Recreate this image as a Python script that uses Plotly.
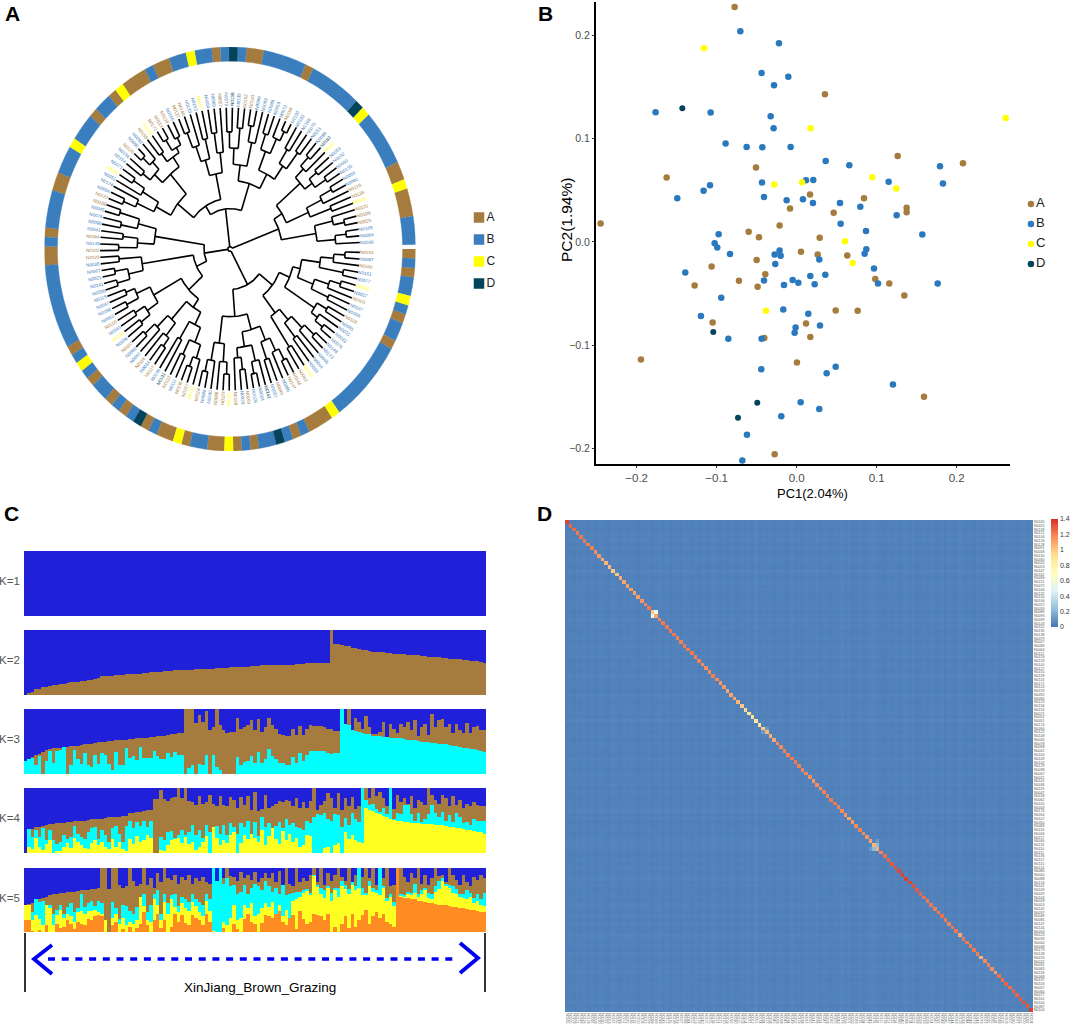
#!/usr/bin/env python3
"""
Four panel figure: tree with group ring, PCA scatter, admixture bars, relatedness heatmap
"""

import math
import numpy as np
import plotly.graph_objects as go

W, H = 1072, 1026
SANS = "Liberation Sans, Arial, sans-serif"

GROUPS = ["A", "B", "C", "D"]
GROUP_COLORS = {"A": "#A67C3E", "B": "#3A7EBD", "C": "#FFFF00", "D": "#04445A"}

# ---- panel A: ring, clockwise from the gap at 3 o'clock
RING_GROUPS = list("ABABCBABABC" "ABABDBABACA" "BACABADBABA" "BABCBABABAB" "ABCBABACABA" "BCBABDBABAB" "DCBACAB")
RING_COUNTS = [1, 1, 1, 2, 1, 1, 1, 2, 1, 9, 1,
               3, 1, 1, 1, 1, 2, 1, 1, 1, 1, 2,
               2, 1, 1, 2, 1, 1, 1, 1, 1, 1, 1,
               2, 1, 1, 1, 1, 1, 9, 2, 1, 1, 4,
               2, 3, 1, 3, 1, 2, 1, 1, 3, 1, 2,
               2, 1, 2, 1, 1, 1, 1, 2, 5, 1, 6,
               1, 1, 6, 2, 1, 3, 3]

LEAF_IDS = [
    "N0104", "N0087", "N0100", "N0161", "N0077", "N0060", "N0057", "N0103", "N0137", "N0068",
    "N0118", "N0065", "N0031", "N0022", "N0076", "N0148", "N0173", "N0048", "N0044", "N0033",
    "N0123", "N0063", "N0144", "N0147", "N0085", "N0049", "N0037", "N0142", "N0024", "N0028",
    "N0163", "N0029", "N0169", "N0101", "N0124", "N0088", "N0040", "N0080", "N0114", "N0115",
    "N0157", "N0136", "N0111", "N0110", "N0131", "N0046", "N0117", "N0034", "N0116", "N0083",
    "N0050", "N0107", "N0056", "N0176", "N0043", "N0105", "N0062", "N0158", "N0047", "N0119",
    "N0036", "N0141", "N0021", "N0067", "N0038", "N0129", "N0102", "N0149", "N0164", "N0041",
    "N0098", "N0078", "N0045", "N0108", "N0122", "N0094", "N0174", "N0051", "N0052", "N0071",
    "N0154", "N0156", "N0125", "N0090", "N0092", "N0159", "N0120", "N0171", "N0113", "N0139",
    "N0155", "N0127", "N0140", "N0133", "N0153", "N0112", "N0064", "N0069", "N0027", "N0079",
    "N0138", "N0135", "N0152", "N0143", "N0099", "N0093", "N0089", "N0059", "N0072", "N0106",
    "N0150", "N0132", "N0166", "N0075", "N0151", "N0096", "N0162", "N0167", "N0053", "N0032",
    "N0030", "N0130", "N0058", "N0091", "N0128", "N0126", "N0146", "N0121", "N0109", "N0025",
    "N0165", "N0084", "N0039",
]

# tree: [node radius, child, child, ...], 0 is a leaf; leaves run clockwise
TREE_SE = [.29,
           [.35,
            [.39,
             [.49, [.56, [.62, 0, 0], 0], [.62, 0, 0]],
             [.48, [.56, [.62, 0, 0], 0], [.58, 0, 0]]],
            [.54, [.6, 0, 0], [.58, 0, [.63, 0, 0]]]],
           [.40, [.47, [.55, [.62, 0, 0], 0], [.56, 0, 0]], [.58, 0, 0]]]
TREE_BOTTOM = [.335,
               [.415,
                [.49, [.56, [.62, 0, 0], 0], [.58, 0, 0]],
                [.49, [.57, 0, [.63, 0, 0]], [.54, [.6, 0, 0], 0]]],
               [.47, [.56, [.62, 0, 0], 0], [.56, 0, [.62, 0, 0]]]]
TREE_SW = [.3,
           [.35,
            [.42, [.5, [.57, 0, [.62, 0, 0]], [.58, 0, 0]], [.52, 0, 0]],
            [.47, [.55, [.6, 0, 0], 0], [.55, 0, [.62, 0, 0]]]],
           [.47, [.54, [.6, 0, 0], [.6, 0, 0]], [.55, [.62, 0, 0], [.6, 0, 0]]]]
TREE_WW = [.48, [.56, [.63, 0, 0], [.63, 0, 0]], [.6, 0, 0]]
TREE_NW = [.41, [.5, [.6, 0, 0], [.58, 0, 0]], [.51, [.6, 0, 0], [.62, 0, 0]]]
TREE_TL = [.25,
           [.36,
            [.45, [.55, [.62, 0, 0], 0], [.55, 0, [.62, 0, 0]]],
            [.49, [.55, [.6, 0, 0], [.6, [.65, 0, 0], 0]], [.55, [.6, 0, 0], [.58, [.64, 0, 0], [.62, 0, 0]]]]],
           [.38, [.46, [.54, [.62, 0, 0], 0], [.56, 0, 0]], [.48, [.58, 0, 0], 0]]]
TREE_TR = [.34,
           [.42, [.5, [.58, 0, 0], [.6, 0, 0]], [.54, [.62, 0, 0], 0]],
           [.42, [.52, [.6, 0, 0], [.6, 0, [.65, 0, 0]]], [.5, [.58, 0, 0], [.6, 0, 0]]]]
TREE_E = [.28,
          [.33,
           [.5, [.56, [.62, 0, 0], 0], [.55, [.6, 0, 0], [.62, 0, 0]]],
           [.46, [.55, [.62, 0, 0], 0], [.58, 0, 0]]],
          [.47, [.57, 0, [.63, 0, 0]], [.57, [.63, 0, 0], 0]]]
TREE = [.012,
        [.2, TREE_SE, TREE_BOTTOM],
        [.14, [.2, TREE_SW, TREE_WW], TREE_NW],
        [.2, TREE_TL, TREE_TR],
        TREE_E]
TIP_R = 0.70
RING_IN, RING_OUT = 0.93, 1.0
RING_SPAN = 358.7

# ---- panel B: PC1, PC2 per group
PCA_A_X = [-.0775, .0354, .1263, .2079, -.0508, -.1625, .0167, .0842, -.0083, .1375, .1375, .0463, -.245,
           -.0213, -.06, -.0471, .0288, .0054, .0263, .0633, -.05, -.1063, -.0392, .0983, -.0721, .1158,
           -.1275, -.0488, .1346, .0488, .0763, -.105, .0117, -.0404, .0171, -.1946, .0004, .1592, -.0275]
PCA_A_Y = [.2274, .1429, .0832, .0761, .0719, .0623, .0458, .0423, .0323, .0329, .0287, .0281, .0177,
           .0158, .0097, .0045, .0039, -.0097, -.0123, -.0132, -.0177, -.0239, -.0313, -.0361, -.0377, -.0403,
           -.0423, -.0435, -.0519, -.0665, -.0668, -.0781, -.079, -.0932, -.0923, -.1139, -.1168, -.15, -.2058]
PCA_B_X = [-.0704, -.0221, -.0438, -.0104, -.0283, -.1763, -.1075, -.0325, -.0288, -.0888, -.0625, -.0429,
           -.0075, .0363, .0658, .1792, -.0433, .0117, .0208, .115, -.1083, -.1163, .1829, -.1492, -.0408,
           -.0125, .0079, .0204, .0542, .0796, .125, .055, -.0975, .0867, .1571, -.1025, -.0992, -.0213,
           -.0275, -.02, -.0833, .0871, .085, .0283, -.0267, -.1392, .0967, .0171, .0358, -.0408, -.005,
           .0021, .0225, -.0158, .1017, .1763, -.0942, -.0167, .0146, -.1196, .0292, -.0013, -.0025, -.0854,
           -.0438, -.0442, .0488, .0375, .1204, .005, .0283, -.0192, -.0621, -.0679]
PCA_B_Y = [.2039, .1923, .1635, .16, .1516, .1255, .1252, .1216, .11, .0952, .0919, .0916,
           .0919, .0784, .0742, .0732, .0574, .0597, .06, .0581, .0548, .0494, .0565, .0423, .0435,
           .0403, .0413, .0377, .0377, .0339, .0258, .0174, .0074, .0106, .0071, -.0013, -.0055, -.0084,
           -.0123, -.0135, -.0119, -.0071, -.0116, -.0171, -.0216, -.0297, -.0258, -.0332, -.0319, -.0374, -.0371,
           -.0397, -.041, -.0419, -.0403, -.0403, -.0542, -.0655, -.0697, -.0719, -.081, -.0829, -.0881, -.0939,
           -.0939, -.1235, -.121, -.1274, -.1381, -.1555, -.1619, -.169, -.1868, -.2119]
PCA_C_X = [-.1158, .2613, .0175, .0946, -.0279, .0067, .1246, .0604, .07, -.0383]
PCA_C_Y = [.1874, .12, .11, .0626, .0555, .0577, .0516, .0006, -.0206, -.0668]
PCA_D_X = [-.1429, -.1042, -.0492, -.0733]
PCA_D_Y = [.1294, -.0874, -.1558, -.1703]
PC_TICKS = [-0.2, -0.1, 0.0, 0.1, 0.2]

# ---- panel C: top of each stacked colour per sample, in percent
K2_BROWN = [0, 4, 5, 9, 10, 12, 13, 15, 16, 16,
            17, 18, 19, 21, 21, 21, 22, 22, 23, 24,
            25, 27, 29, 30, 30, 30, 31, 31, 31, 32,
            32, 32, 33, 33, 34, 34, 35, 35, 36, 36,
            37, 37, 37, 38, 38, 38, 39, 39, 39, 40,
            40, 40, 41, 41, 41, 42, 42, 42, 42, 43,
            43, 43, 44, 44, 44, 45, 45, 45, 46, 46,
            46, 46, 46, 47, 47, 47, 47, 47, 48, 48,
            48, 49, 49, 49, 49, 49, 50, 50, 100, 79,
            78, 77, 76, 75, 73, 72, 71, 70, 69, 68,
            67, 67, 66, 66, 65, 65, 64, 64, 63, 63,
            62, 62, 61, 61, 60, 60, 59, 59, 58, 58,
            57, 57, 56, 56, 55, 55, 54, 54, 53, 53,
            52, 51, 50]
K3_CYAN = [21, 24, 25, 14, 29, 0, 21, 37, 17, 36,
           37, 42, 0, 14, 37, 24, 16, 32, 14, 11,
           29, 16, 33, 29, 16, 7, 34, 14, 14, 40,
           25, 28, 22, 42, 25, 25, 25, 35, 28, 24,
           24, 33, 26, 34, 29, 29, 0, 9, 14, 0,
           16, 14, 29, 0, 29, 11, 6, 0, 0, 0,
           0, 27, 14, 19, 21, 28, 17, 34, 17, 24,
           38, 28, 24, 17, 17, 15, 15, 27, 18, 32,
           21, 29, 35, 35, 36, 36, 35, 32, 31, 33,
           33, 100, 77, 75, 68, 66, 65, 64, 62, 61,
           60, 59, 58, 57, 57, 56, 56, 55, 55, 54,
           53, 52, 52, 51, 50, 50, 49, 48, 48, 47,
           47, 46, 45, 44, 43, 42, 41, 40, 39, 38,
           37, 35, 34]
K3_BROWN = [21, 24, 26, 29, 31, 34, 37, 39, 40, 41,
            41, 42, 42, 43, 44, 44, 45, 46, 46, 47,
            48, 49, 50, 50, 51, 51, 52, 52, 53, 53,
            54, 54, 55, 55, 56, 56, 57, 57, 58, 58,
            59, 60, 61, 62, 63, 64, 100, 100, 100, 78,
            91, 80, 97, 68, 73, 100, 75, 68, 63, 65,
            65, 86, 70, 73, 75, 83, 68, 85, 65, 73,
            86, 75, 70, 62, 60, 58, 58, 70, 60, 74,
            60, 69, 75, 74, 74, 74, 72, 69, 69, 67,
            67, 100, 77, 100, 68, 86, 80, 70, 89, 73,
            62, 62, 65, 80, 57, 77, 70, 64, 77, 73,
            80, 68, 83, 58, 73, 77, 60, 93, 73, 83,
            84, 73, 77, 64, 77, 68, 64, 78, 64, 73,
            74, 68, 68]
K4_YELLOW = [0, 10, 6, 24, 9, 5, 15, 20, 0, 3,
             4, 10, 16, 8, 24, 18, 12, 8, 6, 16,
             20, 12, 18, 10, 6, 22, 10, 18, 6, 4,
             22, 14, 26, 18, 20, 28, 24, 0, 0, 5,
             4, 12, 20, 22, 24, 16, 26, 14, 18, 5,
             10, 18, 26, 0, 40, 24, 12, 20, 16, 28,
             32, 0, 16, 28, 22, 30, 24, 18, 36, 12,
             26, 38, 22, 14, 34, 20, 30, 18, 24, 10,
             12, 28, 26, 0, 0, 0, 8, 10, 0, 12,
             16, 0, 32, 22, 28, 20, 18, 16, 69, 66,
             65, 62, 60, 57, 55, 53, 51, 49, 49, 48,
             48, 47, 47, 46, 46, 45, 45, 45, 44, 44,
             43, 42, 41, 40, 39, 38, 37, 36, 35, 34,
             33, 32, 30]
K4_CYAN = [0, 37, 25, 35, 25, 40, 20, 35, 20, 15,
           18, 28, 22, 25, 42, 30, 25, 22, 32, 38,
           40, 22, 35, 28, 18, 38, 42, 30, 18, 42,
           50, 38, 48, 42, 50, 40, 50, 0, 0, 25,
           20, 32, 34, 24, 28, 36, 28, 32, 44, 28,
           36, 24, 44, 32, 40, 42, 30, 44, 28, 46,
           40, 30, 46, 40, 50, 30, 48, 26, 56, 40,
           46, 38, 42, 48, 38, 52, 44, 46, 40, 38,
           36, 50, 46, 56, 60, 58, 62, 52, 50, 60,
           58, 40, 54, 44, 62, 52, 48, 100, 82, 74,
           76, 68, 64, 70, 60, 100, 52, 62, 60, 74,
           74, 60, 50, 62, 48, 52, 60, 74, 62, 56,
           64, 50, 58, 48, 62, 56, 46, 48, 44, 52,
           50, 50, 50]
K4_BROWN = [0, 37, 37, 40, 41, 42, 44, 45, 45, 46,
            46, 47, 48, 48, 49, 49, 50, 50, 51, 52,
            52, 53, 53, 54, 55, 55, 56, 56, 57, 57,
            61, 62, 63, 64, 65, 66, 67, 83, 83, 97,
            83, 80, 84, 86, 100, 84, 100, 80, 78, 74,
            88, 76, 78, 90, 76, 72, 88, 74, 72, 86,
            82, 70, 86, 74, 88, 66, 94, 65, 68, 90,
            70, 72, 76, 80, 78, 82, 80, 72, 84, 70,
            78, 70, 80, 100, 66, 74, 80, 92, 84, 70,
            92, 66, 84, 72, 86, 68, 72, 100, 100, 84,
            100, 88, 94, 84, 72, 100, 68, 90, 78, 84,
            76, 88, 70, 82, 78, 74, 100, 90, 82, 76,
            90, 84, 72, 88, 74, 82, 70, 76, 72, 78,
            74, 72, 72]
K5_ORANGE = [20, 20, 4, 0, 5, 0, 12, 0, 0, 15,
             8, 10, 20, 14, 6, 18, 14, 12, 22, 20,
             26, 28, 26, 0, 0, 12, 18, 2, 6, 0,
             10, 0, 8, 14, 32, 12, 0, 20, 30, 8,
             20, 0, 10, 30, 18, 28, 16, 12, 28, 24,
             20, 12, 30, 18, 0, 0, 0, 8, 0, 0,
             14, 6, 0, 22, 30, 18, 14, 0, 16, 28,
             26, 24, 30, 34, 18, 12, 24, 28, 6, 34,
             22, 14, 18, 30, 28, 26, 20, 30, 0, 10,
             0, 14, 26, 8, 30, 10, 20, 28, 36, 14,
             26, 32, 24, 30, 18, 14, 10, 100, 56, 55,
             54, 53, 52, 50, 49, 48, 47, 46, 45, 44,
             43, 43, 42, 41, 40, 39, 38, 37, 36, 35,
             34, 33, 32]
K5_YELLOW = [44, 44, 20, 28, 22, 12, 44, 38, 12, 28,
             36, 24, 30, 26, 18, 32, 34, 30, 34, 34,
             36, 32, 30, 20, 0, 24, 30, 14, 24, 12,
             18, 14, 20, 56, 42, 20, 18, 52, 44, 20,
             48, 30, 52, 40, 32, 46, 38, 34, 48, 42,
             32, 26, 50, 34, 4, 0, 0, 18, 12, 24,
             44, 20, 24, 44, 38, 46, 26, 30, 38, 46,
             40, 48, 30, 44, 26, 36, 24, 50, 52, 56,
             62, 66, 58, 88, 72, 60, 54, 70, 50, 66,
             56, 72, 68, 60, 74, 66, 70, 58, 60, 72,
             64, 62, 58, 70, 50, 56, 42, 100, 58, 56,
             60, 58, 62, 55, 60, 66, 54, 52, 64, 68,
             80, 72, 70, 62, 60, 56, 54, 52, 56, 46,
             50, 44, 42]
K5_CYAN = [44, 44, 32, 52, 48, 50, 44, 44, 30, 36,
           44, 30, 40, 46, 32, 38, 60, 40, 46, 50,
           42, 50, 46, 20, 0, 48, 38, 22, 44, 42,
           34, 30, 40, 56, 60, 32, 44, 60, 66, 30,
           60, 46, 58, 60, 42, 56, 52, 48, 60, 52,
           48, 44, 60, 52, 100, 80, 100, 76, 84, 72,
           74, 60, 64, 74, 60, 70, 76, 72, 66, 80,
           72, 64, 70, 60, 74, 58, 60, 62, 64, 64,
           66, 68, 62, 90, 74, 70, 66, 72, 62, 70,
           70, 80, 74, 68, 78, 72, 100, 70, 62, 80,
           70, 66, 100, 72, 54, 60, 48, 100, 60, 58,
           64, 62, 76, 60, 66, 70, 62, 60, 72, 80,
           84, 76, 74, 72, 68, 60, 60, 66, 62, 54,
           60, 52, 62]
K5_BROWN = [44, 45, 46, 50, 52, 54, 56, 58, 60, 60,
            62, 62, 63, 64, 64, 65, 66, 66, 67, 68,
            68, 69, 100, 100, 68, 100, 100, 74, 70, 72,
            100, 80, 72, 76, 100, 74, 84, 70, 92, 78,
            100, 84, 82, 90, 76, 86, 82, 90, 76, 84,
            80, 86, 78, 76, 100, 78, 100, 84, 100, 88,
            86, 80, 94, 84, 90, 82, 94, 78, 84, 92,
            84, 92, 78, 96, 72, 100, 76, 72, 100, 78,
            84, 80, 90, 100, 78, 100, 74, 92, 80, 90,
            100, 86, 80, 100, 76, 90, 100, 86, 100, 84,
            100, 74, 100, 84, 100, 72, 74, 100, 100, 86,
            78, 92, 84, 100, 76, 90, 74, 84, 100, 88,
            90, 78, 100, 90, 82, 74, 90, 78, 72, 86,
            82, 90, 84]
BLUE, BROWN, CYAN, YELLOW, ORANGE = "#2020D8", "#A67C3E", "#00FFFF", "#FFFF22", "#FF8C22"

# ---- panel D: diagonal, a few strong pairs, and a faint per-sample tone
HEAT_DIAG = [1.35, 1.27, 1.25, 1.22, 1.22, 1.22, 1.2, 1.2, 1.17, 1.14,
             1.08, 1.05, 1.05, 1.0, 1.0, 1.08, 1.1, 1.12, 1.12, 1.1,
             1.12, 1.15, 1.18, 1.22, 1.0, 1.1, 1.2, 1.22, 1.22, 1.22,
             1.22, 1.2, 1.2, 1.22, 1.22, 1.22, 1.2, 1.2, 1.17, 1.17,
             1.17, 1.2, 1.17, 1.14, 1.14, 1.1, 1.1, 1.1, 1.05, 1.0,
             .95, .9, .9, .85, .9, 1.0, 1.05, 1.08, 1.1, 1.17,
             1.17, 1.2, 1.2, 1.22, 1.22, 1.2, 1.2, 1.17, 1.17, 1.14,
             1.17, 1.17, 1.2, 1.2, 1.22, 1.22, 1.2, 1.17, 1.14, 1.1,
             1.14, 1.17, 1.2, 1.17, 1.14, 1.1, 1.05, 1.08, 1.2, 1.24,
             1.27, 1.3, 1.32, 1.34, 1.36, 1.36, 1.34, 1.32, 1.3, 1.27,
             1.24, 1.22, 1.22, 1.2, 1.22, 1.24, 1.22, 1.2, 1.22, 1.22,
             1.08, 1.22, 1.22, 1.22, 1.22, 1.2, 1.05, 1.17, 1.2, 1.17,
             1.12, 1.24, 1.24, 1.27, 1.24, 1.27, 1.27, 1.3, 1.32, 1.3,
             1.36]
HEAT_PAIRS = [(24, 25, 0.55), (86, 87, 0.22), (85, 87, 0.12), (55, 56, 0.12)]
HEAT_TONE = [14, 16, 12, 18, 15, 20, 13, 17, 11, 16, 19, 14, 12, 22, 15, 13, 18, 16, 20, 14,
             12, 17, 15, 19, 13, 16, 21, 14, 18, 12, 15, 17, 13, 20, 16, 14, 19, 12, 18, 15,
             13, 22, 16, 14, 17, 11, 19, 15, 13, 18, 16, 20, 14, 24, 12, 17, 15, 19, 13, 16,
             18, 14, 12, 21, 15, 17, 13, 19, 16, 14, 20, 12, 18, 15, 13, 17, 16, 22, 14, 19,
             12, 15, 18, 13, 16, 20, 22, 18, 14, 12, 17, 15, 19, 13, 16, 21, 14, 18, 12, 15,
             17, 13, 20, 16, 14, 19, 12, 18, 15, 13, 22, 16, 14, 17, 11, 19, 15, 13, 18, 16,
             20, 14, 12, 17, 15, 19, 13, 16, 21, 14, 18]
HEAT_TICKS = [0, 0.2, 0.4, 0.6, 0.8, 1, 1.2, 1.4]
HEAT_TICK_TEXT = ["0", "0.2", "0.4", "0.6", "0.8", "1", "1.2", "1.4"]
HEAT_COLORS = ["#4575B4", "#91BFDB", "#E0F3F8", "#FFFFBF", "#FEE090", "#FC8D59", "#D73027"]


def px_axes(layout, idx, x0, y0, x1, y1, x_kw, y_kw):
    """Put axes number idx on a pixel box of the page."""
    suffix = "" if idx == 1 else str(idx)
    hidden = dict(visible=False, fixedrange=True)
    layout["xaxis" + suffix] = dict(hidden, domain=[x0 / W, x1 / W], anchor="y" + suffix, **x_kw)
    layout["yaxis" + suffix] = dict(hidden, domain=[1 - y1 / H, 1 - y0 / H], anchor="x" + suffix, **y_kw)
    return ("x" + suffix, "y" + suffix)


def page_text(text, px, py, size, color="black", xanchor="center", **kw):
    return dict(xref="paper", yref="paper", x=px / W, y=1 - py / H, text=text, showarrow=False,
                xanchor=xanchor, yanchor="middle", font=dict(size=size, color=color, family=SANS), **kw)


def polar(r, deg):
    a = math.radians(deg)
    return r * math.cos(a), r * math.sin(a)


def tree_lines(root, step):
    """Walk the nested tree and return the polar dendrogram as x, y with breaks."""
    xs, ys = [], []
    next_leaf = [0]

    def spoke(r0, r1, deg):
        for r in (r0, r1):
            x, y = polar(r, deg)
            xs.append(x)
            ys.append(y)
        xs.append(None)
        ys.append(None)

    def arc(r, d0, d1):
        n = max(2, int(abs(d1 - d0) / 2) + 2)
        for d in np.linspace(d0, d1, n):
            x, y = polar(r, d)
            xs.append(x)
            ys.append(y)
        xs.append(None)
        ys.append(None)

    def walk(node, parent_r):
        if node == 0:
            deg = (next_leaf[0] + 0.5) * step
            next_leaf[0] += 1
            spoke(parent_r, TIP_R, deg)
            return deg
        r = node[0]
        angles = [walk(child, r) for child in node[1:]]
        mid = (angles[0] + angles[-1]) / 2
        arc(r, angles[0], angles[-1])
        if parent_r is not None:
            spoke(parent_r, r, mid)
        return mid

    walk(root, None)
    return xs, ys


def stacked_bars(fig, axes, tops, colors):
    """tops are cumulative boundaries from the bottom up; blue fills what is left."""
    samples = list(range(133))
    prev = [0] * 133
    for series, color in zip(tops, colors):
        assert len(series) == 133
        seg = [max(t - p, 0) for t, p in zip(series, prev)]
        prev = [max(t, p) for t, p in zip(series, prev)]
        fig.add_trace(go.Bar(x=samples, y=seg, marker=dict(color=color, line=dict(width=0)), width=1,
                             xaxis=axes[0], yaxis=axes[1], showlegend=False))
    fig.add_trace(go.Bar(x=samples, y=[100 - p for p in prev], marker=dict(color=BLUE, line=dict(width=0)), width=1,
                         xaxis=axes[0], yaxis=axes[1], showlegend=False))


def main():
    layout = {}
    annotations = []
    fig = go.Figure()

    # ---- A: tree and ring
    ax_a = px_axes(layout, 1, 44.4, 47, 415.6, 451, dict(range=[-1, 1]), dict(range=[1, -1]))
    leaf_groups = [g for g, c in zip(RING_GROUPS, RING_COUNTS) for _ in range(c)]
    n_leaf = len(leaf_groups)
    assert n_leaf == len(LEAF_IDS)
    step = RING_SPAN / n_leaf

    for group in GROUPS:
        xs, ys = [], []
        for i, g in enumerate(leaf_groups):
            if g != group:
                continue
            for r, d0, d1 in ((RING_OUT, i * step, (i + 1) * step), (RING_IN, (i + 1) * step, i * step)):
                for d in np.linspace(d0, d1, 3):
                    x, y = polar(r, d)
                    xs.append(x)
                    ys.append(y)
            xs.append(None)
            ys.append(None)
        fig.add_trace(go.Scatter(x=xs, y=ys, mode="lines", fill="toself", fillcolor=GROUP_COLORS[group],
                                 line=dict(width=0.4, color=GROUP_COLORS[group]), hoverinfo="skip",
                                 showlegend=False, xaxis=ax_a[0], yaxis=ax_a[1]))

    tx, ty = tree_lines(TREE, step)
    fig.add_trace(go.Scatter(x=tx, y=ty, mode="lines", line=dict(color="black", width=1.6), hoverinfo="skip",
                             showlegend=False, xaxis=ax_a[0], yaxis=ax_a[1]))

    for i, (name, g) in enumerate(zip(LEAF_IDS, leaf_groups)):
        deg = (i + 0.5) * step
        x, y = polar(0.74, deg)
        angle = deg if (deg < 90 or deg > 270) else deg - 180
        annotations.append(dict(xref=ax_a[0], yref=ax_a[1], x=x, y=y, text=name, textangle=angle, showarrow=False,
                                font=dict(size=4.6, color=GROUP_COLORS[g], family=SANS)))

    ax_la = px_axes(layout, 2, 470, 206.5, 510, 294.5, dict(range=[0, 1]), dict(range=[3.5, -0.5]))
    fig.add_trace(go.Scatter(x=[0.225] * 4, y=[0, 1, 2, 3], mode="markers+text", text=GROUPS,
                             textposition="middle right", textfont=dict(size=12, color="#222222", family=SANS),
                             marker=dict(symbol="square", size=10.5, color=[GROUP_COLORS[g] for g in GROUPS]),
                             showlegend=False, xaxis=ax_la[0], yaxis=ax_la[1]))

    # ---- B: PCA
    layout["xaxis3"] = dict(domain=[596 / W, 1010 / W], anchor="y3", range=[-.2508, .2667], tickvals=PC_TICKS,
                            tickformat=".1f", showline=True, linewidth=2, linecolor="black", ticks="outside",
                            ticklen=2, tickcolor="#333333", showgrid=False, zeroline=False,
                            tickfont=dict(size=11.5, color="#4d4d4d", family=SANS))
    layout["yaxis3"] = dict(domain=[1 - 464.3 / H, 1 - 2 / H], anchor="x3", range=[-.2155, .2323], tickvals=PC_TICKS,
                            tickformat=".1f", showline=True, linewidth=2, linecolor="black", ticks="outside",
                            ticklen=2, tickcolor="#333333", showgrid=False, zeroline=False,
                            tickfont=dict(size=10.5, color="#4d4d4d", family=SANS))
    annotations.append(page_text("PC1(2.04%)", 812, 493, 13))
    annotations.append(page_text("PC2(1.94%)", 566, 220, 15.5, textangle=-90))
    for group, px, py, size in (("A", PCA_A_X, PCA_A_Y, 6.5), ("B", PCA_B_X, PCA_B_Y, 6.5),
                                ("C", PCA_C_X, PCA_C_Y, 6.5), ("D", PCA_D_X, PCA_D_Y, 6)):
        color = "#2A78BE" if group == "B" else GROUP_COLORS[group]
        fig.add_trace(go.Scatter(x=px, y=py, mode="markers", name=group, marker=dict(size=size, color=color),
                                 showlegend=False, xaxis="x3", yaxis="y3"))

    ax_lb = px_axes(layout, 4, 1020, 194, 1072, 274, dict(range=[0, 1]), dict(range=[3.5, -0.5]))
    fig.add_trace(go.Scatter(x=[0.21] * 4, y=[0, 1, 2, 3], mode="markers+text", text=GROUPS,
                             textposition="middle right", textfont=dict(size=13, color="#222222", family=SANS),
                             marker=dict(size=6.5, color=[GROUP_COLORS["A"], "#2A78BE", GROUP_COLORS["C"], GROUP_COLORS["D"]]),
                             showlegend=False, xaxis=ax_lb[0], yaxis=ax_lb[1]))

    # ---- C: admixture rows
    rows = [
        ("K=1", 550.7, [], []),
        ("K=2", 630, [K2_BROWN], [BROWN]),
        ("K=3", 709, [K3_CYAN, K3_BROWN], [CYAN, BROWN]),
        ("K=4", 788, [K4_YELLOW, K4_CYAN, K4_BROWN], [YELLOW, CYAN, BROWN]),
        ("K=5", 867.7, [K5_ORANGE, K5_YELLOW, K5_CYAN, K5_BROWN], [ORANGE, YELLOW, CYAN, BROWN]),
    ]
    for k, (label, top, tops, colors) in enumerate(rows):
        axes = px_axes(layout, 5 + k, 24, top, 486, top + 65.3, dict(range=[-0.5, 132.5]), dict(range=[0, 100]))
        stacked_bars(fig, axes, tops, colors)
        annotations.append(page_text(label, 21.5, top + 30, 11.5, color="#555555", xanchor="right"))

    ax_arrow = px_axes(layout, 10, 24, 932, 486, 995, dict(range=[24, 486]), dict(range=[995, 932]))
    fig.add_trace(go.Scatter(x=[25, 25, None, 485, 485], y=[933, 992, None, 933, 992], mode="lines",
                             line=dict(color="black", width=1.6), showlegend=False, hoverinfo="skip",
                             xaxis=ax_arrow[0], yaxis=ax_arrow[1]))
    fig.add_trace(go.Scatter(x=[48, 458], y=[959, 959], mode="lines", line=dict(color="#0000F0", width=3.5, dash="7px,6.7px"),
                             showlegend=False, hoverinfo="skip", xaxis=ax_arrow[0], yaxis=ax_arrow[1]))
    fig.add_trace(go.Scatter(x=[52, 34, 52, None, 460, 478, 460], y=[945, 959, 974, None, 943, 958, 973], mode="lines",
                             line=dict(color="#0000F0", width=3.8), showlegend=False, hoverinfo="skip",
                             xaxis=ax_arrow[0], yaxis=ax_arrow[1]))
    annotations.append(page_text("XinJiang_Brown_Grazing", 260, 987, 13.5))

    # ---- D: heatmap
    n = len(HEAT_DIAG)
    assert len(HEAT_TONE) == n
    tone = np.array(HEAT_TONE) / 800.0
    z = tone[:, None] + tone[None, :]
    z[np.arange(n), np.arange(n)] = HEAT_DIAG
    for a, b, v in HEAT_PAIRS:
        z[a, b] = z[b, a] = v
    heat_ids = LEAF_IDS[n - 1::-1]
    fig.add_trace(go.Heatmap(
        z=z.tolist(), x=list(range(n)), y=list(range(n)), zmin=0, zmax=1.4,
        colorscale=[[i / 6, c] for i, c in enumerate(HEAT_COLORS)], xgap=0, ygap=0,
        colorbar=dict(x=1051 / W, xanchor="left", y=1 - 519 / H, yanchor="top", len=108 / H, thickness=7,
                      xpad=0, ypad=0, outlinewidth=0, tickvals=HEAT_TICKS, ticktext=HEAT_TICK_TEXT,
                      ticks="", tickfont=dict(size=7, color="#333333", family=SANS)),
        xaxis="x11", yaxis="y11"))
    small = dict(size=3.6, color="#555555", family=SANS)
    layout["xaxis11"] = dict(domain=[565 / W, 1033 / W], anchor="y11", range=[-0.5, n - 0.5], tickvals=list(range(n)),
                             ticktext=heat_ids, tickangle=90, tickfont=small, ticks="", showgrid=False, zeroline=False,
                             fixedrange=True)
    layout["yaxis11"] = dict(domain=[1 - 1012 / H, 1 - 520 / H], anchor="x11", side="right", range=[n - 0.5, -0.5],
                             tickvals=list(range(n)), ticktext=heat_ids, tickfont=small, ticks="", showgrid=False,
                             zeroline=False, fixedrange=True)

    # ---- panel letters
    for letter, px, py in (("A", 3, 13), ("B", 536, 13), ("C", 2, 513), ("D", 535, 513)):
        annotations.append(page_text(f"<b>{letter}</b>", px, py, 21, xanchor="left"))

    fig.update_layout(width=W, height=H, margin=dict(l=0, r=0, t=0, b=0), autosize=False,
                      paper_bgcolor="white", plot_bgcolor="white", barmode="stack", bargap=0,
                      showlegend=False, annotations=annotations, **layout)

    fig.write_html("out.html", config=dict(displayModeBar=False),
                   post_script="document.body.style.margin='0';")


if __name__ == "__main__":
    main()
